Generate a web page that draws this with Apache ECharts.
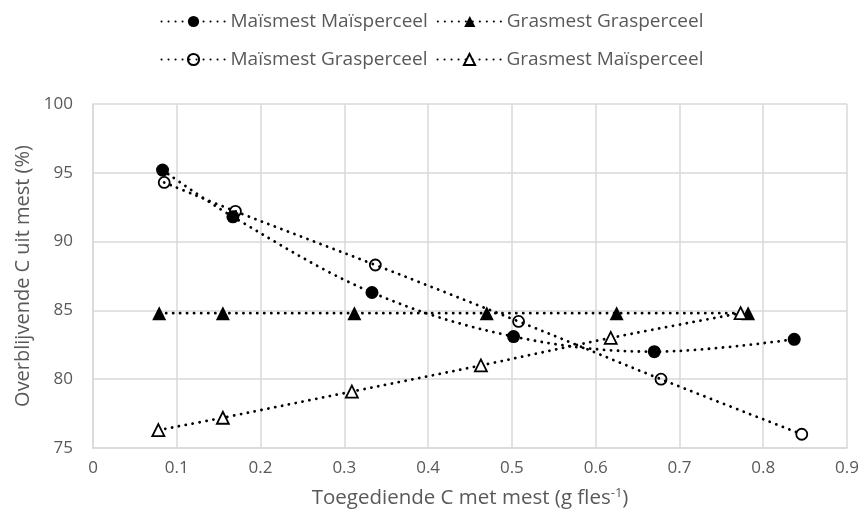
<!DOCTYPE html>
<html><head><meta charset="utf-8">
<script src="https://cdn.jsdelivr.net/npm/echarts@6/dist/echarts.min.js"></script>
<style>html,body{margin:0;padding:0;background:#fff}#c{width:864px;height:522px}</style>
</head><body><div id="c"></div>
<script>
var seriesNames = ['Maïsmest Maïsperceel','Grasmest Grasperceel','Maïsmest Grasperceel','Grasmest Maïsperceel'];
var mmX = [0.083,0.167,0.333,0.502,0.670,0.837];
var mmY = [95.2,91.8,86.3,83.1,82.0,82.9];
var ggX = [0.079,0.155,0.312,0.470,0.625,0.782];
var ggY = [84.8,84.8,84.8,84.8,84.8,84.8];
var mgX = [0.085,0.170,0.337,0.508,0.678,0.846];
var mgY = [94.3,92.2,88.3,84.2,80.0,76.0];
var gmX = [0.078,0.155,0.309,0.463,0.618,0.773];
var gmY = [76.3,77.2,79.1,81.0,83.0,84.8];
var xTicks = {min:0,max:0.9,interval:0.1};
var yTicks = {min:75,max:100,interval:5};

function pairs(xs, ys){ return xs.map(function(x,i){return [x, ys[i]];}); }
var FONT = 'Open Sans';
var TXT = '#595959';
var lineSt = {color:'#000', width:2.8, type:[0.1,6.9], cap:'round'};
function mk(name, xs, ys, symbol, fill, bw, size){
  return {
    name:name, type:'line', smooth:0.35, data:pairs(xs,ys),
    symbol:symbol, symbolSize:size,
    lineStyle:lineSt,
    itemStyle:{color: fill, borderColor:'#000', borderWidth: bw},
    emphasis:{disabled:true}, z: 3
  };
}
var legendText = {fontFamily:FONT,fontSize:19,color:TXT};
var chart = echarts.init(document.getElementById('c'));
chart.setOption({
  animation:false,
  backgroundColor:'#fff',
  textStyle:{fontFamily:FONT},
  legend:[
    {data:[seriesNames[0],seriesNames[1]], top:7, left:'center', itemWidth:64, itemHeight:14, itemGap:9,
     textStyle:legendText},
    {data:[seriesNames[2],seriesNames[3]], top:45, left:'center', itemWidth:64, itemHeight:14, itemGap:9,
     textStyle:legendText}
  ],
  grid:{left:93, right:17, top:104, bottom:74},
  xAxis:{type:'value', min:xTicks.min, max:xTicks.max, interval:xTicks.interval,
    name:'{a|Toegediende C met mest (g fles}{s|-1}{a|)}', nameLocation:'middle', nameGap:39,
    nameTextStyle:{rich:{a:{fontFamily:FONT,fontSize:20.5,color:TXT}, s:{fontFamily:FONT,fontSize:13,color:TXT,verticalAlign:'top',padding:[0,0,10,0]}}},
    axisLine:{show:true,lineStyle:{color:'#d9d9d9',width:1.5}}, axisTick:{show:false},
    splitLine:{show:true,lineStyle:{color:'#d9d9d9',width:1.5}},
    axisLabel:{fontFamily:FONT,fontSize:17,color:TXT,margin:12,formatter:function(v){return String(Math.round(v*10)/10);}}
  },
  yAxis:{type:'value', min:yTicks.min, max:yTicks.max, interval:yTicks.interval,
    name:'Overblijvende C uit mest (%)', nameLocation:'middle', nameGap:54,
    nameTextStyle:{fontFamily:FONT,fontSize:20,color:TXT},
    axisLine:{show:true,lineStyle:{color:'#d9d9d9',width:1.5}}, axisTick:{show:false},
    splitLine:{show:true,lineStyle:{color:'#d9d9d9',width:1.5}},
    axisLabel:{fontFamily:FONT,fontSize:17,color:TXT,margin:20}
  },
  series:[
    mk(seriesNames[0], mmX, mmY, 'circle', '#000', 0, 13),
    mk(seriesNames[1], ggX, ggY, 'triangle', '#000', 0, 14),
    mk(seriesNames[2], mgX, mgY, 'circle', 'rgba(255,255,255,0)', 1.8, 11),
    mk(seriesNames[3], gmX, gmY, 'triangle', '#fff', 1.8, 12)
  ]
});
</script></body></html>
